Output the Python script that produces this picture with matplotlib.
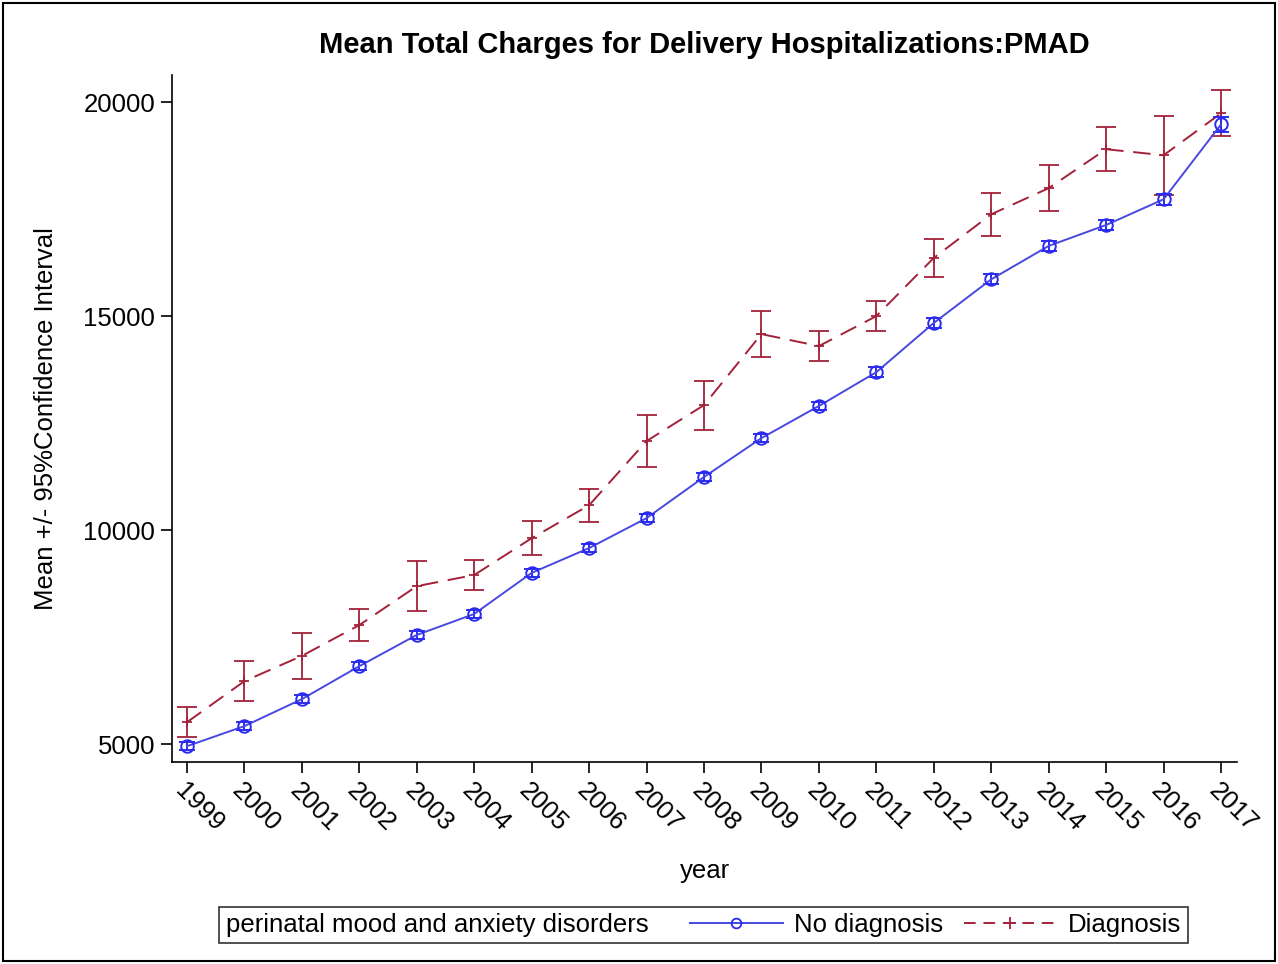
import matplotlib
matplotlib.use("Agg")
import matplotlib.pyplot as plt
from matplotlib.lines import Line2D
from matplotlib.patches import Rectangle
from matplotlib.offsetbox import DrawingArea

plt.rcParams['font.family'] = ['Liberation Sans', 'DejaVu Sans']

years = list(range(1999, 2018))
no_dx_mean = [4950, 5420, 6050, 6820, 7550, 8040, 9000, 9580, 10280, 11240,
              12150, 12900, 13690, 14840, 15860, 16640, 17130, 17730, 19480]
no_dx_ci = [100, 90, 90, 90, 90, 90, 100, 90, 100, 100,
            100, 100, 110, 110, 120, 110, 120, 130, 180]
dx_mean = [5510, 6470, 7060, 7780, 8690, 8950, 9810, 10580, 12080, 12920,
           14580, 14300, 15000, 16360, 17380, 17990, 18900, 18760, 19740]
dx_ci = [350, 470, 540, 370, 580, 340, 400, 380, 610, 570,
         540, 350, 350, 450, 500, 530, 520, 920, 540]

blue = '#2a2af0'
red = '#a3223a'

fig = plt.figure(figsize=(12.78, 9.64), dpi=100)
ax = fig.add_axes([0.1346, 0.2095, 0.8334, 0.7125])

ax.errorbar(years, no_dx_mean, yerr=no_dx_ci, color='#4848e0', ecolor=blue,
            lw=1.4, marker='o', ms=9, mfc='none', mec=blue, mew=1.4,
            capsize=6, capthick=1.4, elinewidth=1.4, zorder=3)
ax.errorbar(years, dx_mean, yerr=dx_ci, color=red, ecolor=red,
            lw=1.4, ls=(0, (9, 5)), marker='+', ms=7, mec=red, mew=1.3,
            capsize=7.5, capthick=1.3, elinewidth=1.3, zorder=2)

ax.set_xlim(1998.74, 2017.28)
ax.set_ylim(4580, 20630)
ax.set_xticks(years)
ax.set_xticklabels([str(y) for y in years], rotation=-45, ha='left',
                   va='top', rotation_mode='anchor')
ax.set_yticks([5000, 10000, 15000, 20000])
ax.tick_params(axis='both', direction='out', length=8, width=1.2,
               labelsize=18.5, colors='black', pad=4)
ax.spines['top'].set_visible(False)
ax.spines['right'].set_visible(False)
ax.spines['left'].set_linewidth(1.2)
ax.spines['bottom'].set_linewidth(1.2)

ax.set_title('Mean Total Charges for Delivery Hospitalizations:PMAD',
             fontsize=21, fontweight='bold', pad=16)
ax.set_xlabel('year', fontsize=18.5, labelpad=16)
ax.set_ylabel('Mean +/- 95%Confidence Interval', fontsize=18.5, labelpad=18)

handles = [Line2D([], [], color='#4848e0', lw=1.4, marker='o', ms=7,
                  mfc='none', mec=blue, mew=1.3),
           Line2D([], [], color=red, lw=1.4, ls=(0, (6, 4)), marker='+',
                  ms=9, mec=red, mew=1.3)]
leg = fig.legend(handles, ['No diagnosis', 'Diagnosis'], ncol=2,
                 title='perinatal mood and anxiety disorders',
                 loc='center', bbox_to_anchor=(0.5505, 0.0405),
                 fontsize=18.5, title_fontsize=18.5, frameon=True,
                 fancybox=False, edgecolor='black', handlelength=3.6,
                 handletextpad=0.45, columnspacing=0.8, borderpad=0.25,
                 borderaxespad=0)
leg.get_frame().set_linewidth(1.2)
# put the legend title left of the entries
box = leg.get_children()[0]
title_box = box.get_children()[0]
hpack = box.get_children()[1]
box._children = [hpack]
hpack._children = [title_box, DrawingArea(0, 0)] + hpack.get_children()
hpack.sep = 15

fig.patches.append(Rectangle((0.002, 0.003), 0.996, 0.994,
                             transform=fig.transFigure, fill=False,
                             edgecolor='black', lw=1.5))

fig.savefig('out.png', dpi=100)
